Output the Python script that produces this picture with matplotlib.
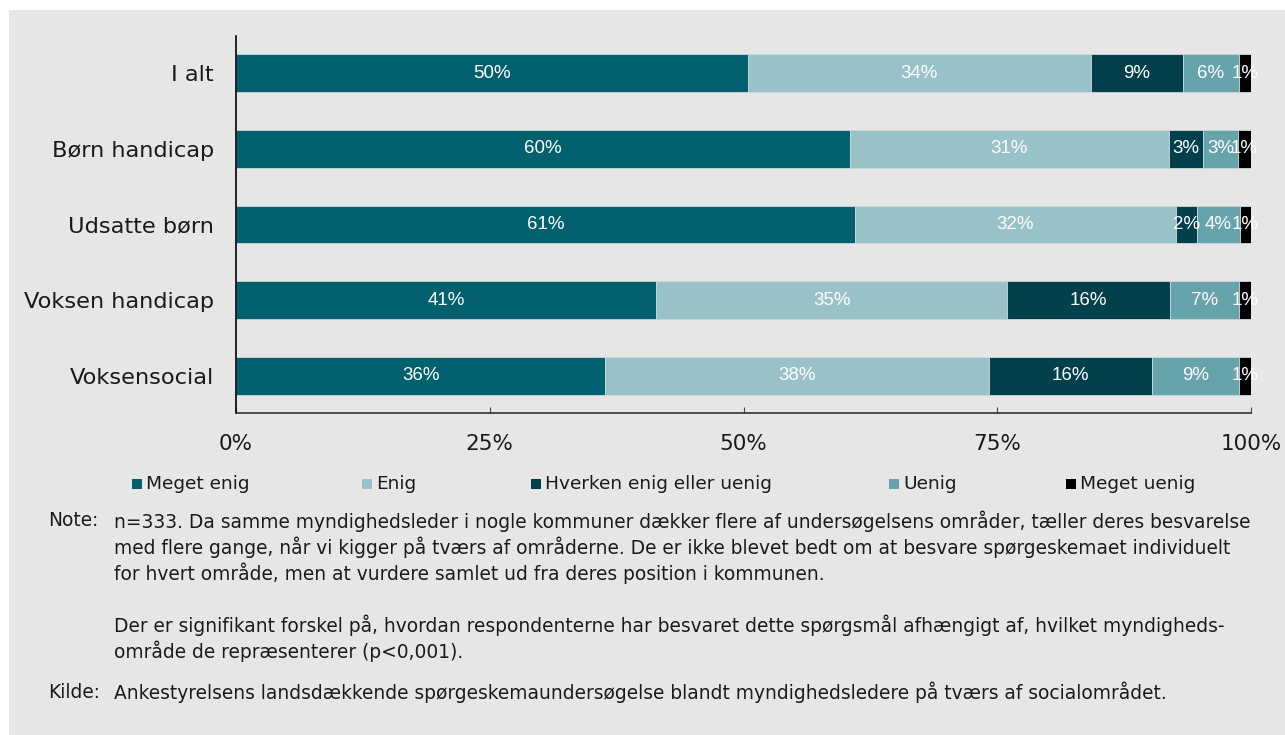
import numpy as np
import matplotlib.pyplot as plt
from matplotlib.patches import Rectangle

plt.rcParams["font.family"] = "DejaVu Sans"

# --- data (percent of respondents) ---
categories = ["I alt", "Børn handicap", "Udsatte børn", "Voksen handicap", "Voksensocial"]
series_names = ["Meget enig", "Enig", "Hverken enig eller uenig", "Uenig", "Meget uenig"]
meget_enig = [50.4, 60.5, 61.0, 41.4, 36.4]
enig = [33.8, 31.4, 31.6, 34.6, 37.8]
hverken = [9.1, 3.4, 2.1, 16.0, 16.0]
uenig = [5.5, 3.4, 4.2, 6.8, 8.6]
meget_uenig = [1.2, 1.3, 1.1, 1.2, 1.2]
x_ticks = [0, 25, 50, 75, 100]
x_tick_labels = ["0%", "25%", "50%", "75%", "100%"]

colors = ["#02606f", "#99c1c8", "#02404c", "#66a3ab", "#000000"]
bg = "#e6e6e6"

note_lines = [
    "n=333. Da samme myndighedsleder i nogle kommuner dækker flere af undersøgelsens områder, tæller deres besvarelse",
    "med flere gange, når vi kigger på tværs af områderne. De er ikke blevet bedt om at besvare spørgeskemaet individuelt",
    "for hvert område, men at vurdere samlet ud fra deres position i kommunen.",
    "",
    "Der er signifikant forskel på, hvordan respondenterne har besvaret dette spørgsmål afhængigt af, hvilket myndigheds-",
    "område de repræsenterer (p<0,001).",
]
source_line = "Ankestyrelsens landsdækkende spørgeskemaundersøgelse blandt myndighedsledere på tværs af socialområdet."

W, H = 1285, 735
fig = plt.figure(figsize=(W / 100, H / 100), dpi=100)
fig.patch.set_facecolor("white")
panel = Rectangle((9 / W, 0), 1 - 9 / W, 1 - 10 / H, transform=fig.transFigure,
                  facecolor=bg, edgecolor="none", zorder=-10)
fig.add_artist(panel)

ax = fig.add_axes([236 / W, 1 - 413 / H, (1251 - 236) / W, (413 - 36) / H])
ax.set_facecolor(bg)

all_series = [meget_enig, enig, hverken, uenig, meget_uenig]
y = np.arange(len(categories))
left = np.zeros(len(categories))
for name, vals, col in zip(series_names, all_series, colors):
    vals = np.array(vals)
    ax.barh(y, vals, left=left, height=0.5, color=col,
            edgecolor="#c9d9dc", linewidth=0.6, label=name)
    for yi, l, v in zip(y, left, vals):
        ax.text(l + v / 2, yi, f"{v:.0f}%", ha="center", va="center",
                color="white", fontsize=13.5, family="Liberation Sans")
    left += vals

ax.set_xlim(0, 100)
ax.set_ylim(len(categories) - 0.51, -0.49)
ax.set_yticks(y)
ax.set_yticklabels(categories, fontsize=16.2, color="#1a1a1a")
ax.set_xticks(x_ticks)
ax.set_xticklabels(x_tick_labels, fontsize=15.5, color="#1a1a1a")
ax.tick_params(axis="y", length=0, pad=16)
ax.tick_params(axis="x", direction="in", length=4.5, width=0.8, color="#444444", pad=15)
for s in ["top", "right"]:
    ax.spines[s].set_visible(False)
ax.spines["left"].set_color("black")
ax.spines["left"].set_linewidth(1.2)
ax.spines["bottom"].set_color("#333333")
ax.spines["bottom"].set_linewidth(1.2)

# legend
leg_x = [132, 362, 531, 889, 1066]
leg_y = 1 - 484 / H
for lx, name, col in zip(leg_x, series_names, colors):
    fig.add_artist(Rectangle((lx / W, leg_y - 5 / H), 10 / W, 10 / H,
                             transform=fig.transFigure, facecolor=col,
                             edgecolor="none"))
    fig.text((lx + 14) / W, leg_y, name, fontsize=13.3, va="center",
             ha="left", color="#1a1a1a")

# notes
fs = 13.4
fig.text(48 / W, 1 - 521 / H, "Note:", fontsize=fs, va="center", color="#1a1a1a")
for i, line in enumerate(note_lines):
    if line:
        fig.text(114 / W, 1 - (521 + 26 * i) / H, line, fontsize=fs,
                 va="center", color="#1a1a1a")
fig.text(48 / W, 1 - 692 / H, "Kilde:", fontsize=fs, va="center", color="#1a1a1a")
fig.text(114 / W, 1 - 692 / H, source_line, fontsize=fs, va="center", color="#1a1a1a")

fig.savefig("out.png", dpi=100, facecolor=fig.get_facecolor())
